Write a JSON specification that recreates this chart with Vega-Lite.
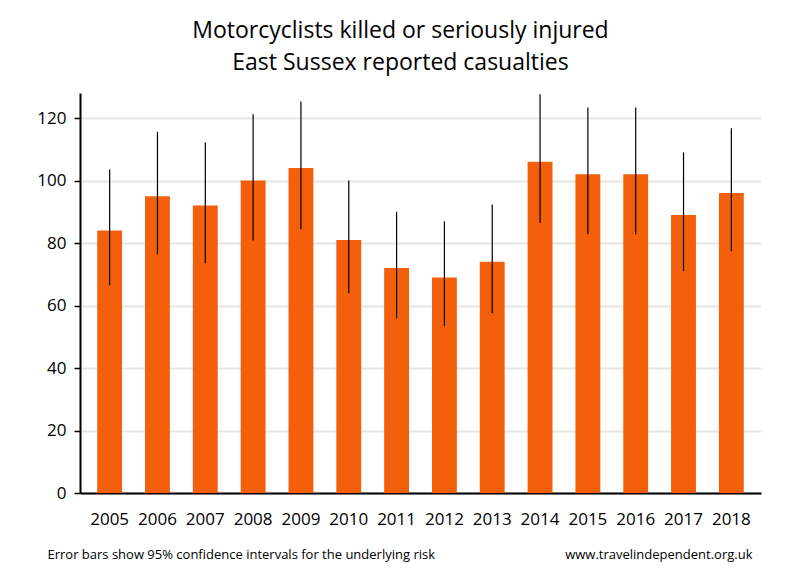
{
  "$schema": "https://vega.github.io/schema/vega-lite/v6.json",
  "width": 681,
  "height": 400,
  "autosize": {"type": "none"},
  "padding": {"left": 80, "top": 93, "right": 39, "bottom": 87},
  "background": "white",
  "title": {
    "text": ["Motorcyclists killed or seriously injured", "East Sussex reported casualties"],
    "font": "Open Sans",
    "fontSize": 23,
    "fontWeight": "normal",
    "color": "black",
    "anchor": "middle",
    "frame": "group",
    "dx": -20,
    "lineHeight": 32,
    "offset": 18
  },
  "data": {
    "values": [
      {"year": "2005", "value": 84, "lo": 66.5, "hi": 103.5},
      {"year": "2006", "value": 95, "lo": 76.4, "hi": 115.6},
      {"year": "2007", "value": 92, "lo": 73.5, "hi": 112.2},
      {"year": "2008", "value": 100, "lo": 80.8, "hi": 121.2},
      {"year": "2009", "value": 104, "lo": 84.4, "hi": 125.3},
      {"year": "2010", "value": 81, "lo": 63.9, "hi": 100.0},
      {"year": "2011", "value": 72, "lo": 55.9, "hi": 90.0},
      {"year": "2012", "value": 69, "lo": 53.4, "hi": 86.9},
      {"year": "2013", "value": 74, "lo": 57.5, "hi": 92.3},
      {"year": "2014", "value": 106, "lo": 86.4, "hi": 127.6},
      {"year": "2015", "value": 102, "lo": 82.8, "hi": 123.4},
      {"year": "2016", "value": 102, "lo": 82.8, "hi": 123.4},
      {"year": "2017", "value": 89, "lo": 71.0, "hi": 109.0},
      {"year": "2018", "value": 96, "lo": 77.4, "hi": 116.7}
    ]
  },
  "encoding": {
    "x": {
      "field": "year",
      "type": "ordinal",
      "scale": {"paddingInner": 0.48, "paddingOuter": 0.36},
      "axis": {
        "labelAngle": 0,
        "labelFont": "Open Sans",
        "labelFontSize": 17,
        "labelColor": "black",
        "labelPadding": 18,
        "ticks": false,
        "domainColor": "black",
        "domainWidth": 2,
        "title": "Error bars show 95% confidence intervals for the underlying risk",
        "titleFont": "Open Sans",
        "titleFontSize": 13,
        "titleFontWeight": "normal",
        "titleColor": "black",
        "titleAnchor": "start",
        "titleAlign": "left",
        "titleBaseline": "alphabetic",
        "titleX": -33,
        "titleY": 65
      }
    }
  },
  "layer": [
    {
      "mark": {"type": "bar", "color": "#F45F0C"},
      "encoding": {
        "y": {
          "field": "value",
          "type": "quantitative",
          "scale": {"domain": [0, 128], "nice": false},
          "axis": {
            "values": [0, 20, 40, 60, 80, 100, 120],
            "labelFont": "Open Sans",
            "labelFontSize": 17,
            "labelColor": "black",
            "labelPadding": 8,
            "ticks": true,
            "tickSize": 6,
            "tickColor": "black",
            "tickWidth": 1.5,
            "domainColor": "black",
            "domainWidth": 2,
            "grid": true,
            "gridColor": "#e6e6e6",
            "gridWidth": 2,
            "title": "www.travelindependent.org.uk",
            "titleFont": "Open Sans",
            "titleFontSize": 13,
            "titleFontWeight": "normal",
            "titleColor": "black",
            "titleAngle": 0,
            "titleAlign": "right",
            "titleBaseline": "alphabetic",
            "titleX": 672,
            "titleY": 465
          }
        }
      }
    },
    {
      "mark": {"type": "rule", "color": "black", "strokeWidth": 1.2},
      "encoding": {
        "y": {"field": "lo", "type": "quantitative"},
        "y2": {"field": "hi"}
      }
    }
  ],
  "config": {
    "view": {"stroke": null}
  }
}
